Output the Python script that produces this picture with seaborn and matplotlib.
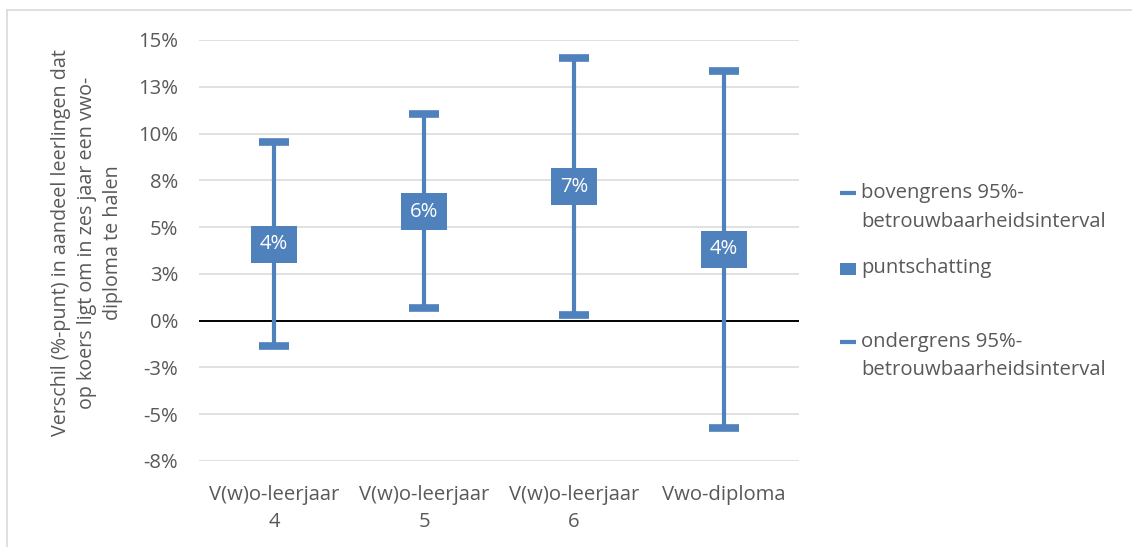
import matplotlib
matplotlib.use("Agg")
import matplotlib.pyplot as plt
from matplotlib.lines import Line2D
from matplotlib.patches import Rectangle
import seaborn as sns
import pandas as pd

# data (percentage points)
categories = ["V(w)o-leerjaar\n4", "V(w)o-leerjaar\n5", "V(w)o-leerjaar\n6", "Vwo-diploma"]
upper = [9.56, 11.03, 14.04, 13.33]
point = [4.09, 5.83, 7.17, 3.82]
lower = [-1.36, 0.66, 0.32, -5.72]
point_labels = ["4%", "6%", "7%", "4%"]

yticks = [15, 12.5, 10, 7.5, 5, 2.5, 0, -2.5, -5, -7.5]
ytick_labels = ["15%", "13%", "10%", "8%", "5%", "3%", "0%", "-3%", "-5%", "-8%"]

legend_labels = ["bovengrens 95%-\nbetrouwbaarheidsinterval",
                 "puntschatting",
                 "ondergrens 95%-\nbetrouwbaarheidsinterval"]

ylabel = "Verschil (%-punt) in aandeel leerlingen dat\nop koers ligt om in zes jaar een vwo-\ndiploma te halen"

blue = "#4F81BD"
grey = "#595959"
fs = 14.6

sns.set_style("white")
plt.rcParams["font.family"] = ["Open Sans", "DejaVu Sans"]

W, H = 1132, 547
fig = plt.figure(figsize=(W / 100, H / 100), dpi=100)
ax = fig.add_axes([199 / W, 1 - 461 / H, 600 / W, 421 / H])

# long table: median of (lower, point, upper) is the point, min/max the interval
long = pd.DataFrame({"cat": categories * 3, "val": upper + point + lower})

ax.set_yticks(yticks)
ax.yaxis.grid(True, color="#D9D9D9", linewidth=1.1, zorder=0)
ax.set_axisbelow(True)
ax.axhline(0, color="black", linewidth=1.4, zorder=1)

sns.pointplot(data=long, x="cat", y="val", estimator="median", errorbar=("pi", 100),
              color=blue, linestyle="none", markersize=0, capsize=0,
              err_kws={"linewidth": 3}, ax=ax, zorder=2)

# caps of the interval
for vals in (upper, lower):
    sns.pointplot(x=categories, y=vals, errorbar=None, color=blue, linestyle="none",
                  marker="_", markersize=21, markeredgewidth=5.5, ax=ax)

for i, (v, t) in enumerate(zip(point, point_labels)):
    ax.text(i, v, t, ha="center", va="center", color="white", fontsize=fs, zorder=5,
            bbox=dict(boxstyle="square,pad=0.42", facecolor=blue, edgecolor="none"))

ax.set_ylim(-7.5, 15)
ax.set_xlim(-0.5, 3.5)
ax.set_yticklabels(ytick_labels)
ax.set_xlabel("")
ax.set_ylabel("")
ax.tick_params(axis="y", length=0, pad=15, labelsize=fs, labelcolor=grey)
ax.tick_params(axis="x", length=0, pad=17, labelsize=fs, labelcolor=grey)
for lab in ax.get_xticklabels():
    lab.set_linespacing(1.5)
for s in ax.spines.values():
    s.set_visible(False)

fig.text(87 / W, 1 - 243 / H, ylabel, rotation=90, ha="center", va="center",
         multialignment="center", color=grey, fontsize=14.2, linespacing=1.4)

# legend drawn by hand to keep the uneven spacing of the original
marker_y = [193, 268.5, 341.7]
line_h = 28.7
for k, (lab, my) in enumerate(zip(legend_labels, marker_y)):
    if k == 1:
        fig.add_artist(Rectangle((840 / W, 1 - (my + 6) / H), 16 / W, 12 / H,
                                 transform=fig.transFigure, facecolor=blue, edgecolor="none"))
    else:
        fig.add_artist(Line2D([840 / W, 856 / W], [1 - my / H] * 2, transform=fig.transFigure,
                              color=blue, linewidth=3, solid_capstyle="butt"))
    for j, part in enumerate(lab.split("\n")):
        fig.text(861 / W, 1 - (my + j * line_h) / H, part, ha="left", va="center",
                 color=grey, fontsize=fs)

# chart frame (top and left edges visible in the crop)
fig.add_artist(Line2D([7 / W, 1], [1 - 10 / H] * 2, transform=fig.transFigure,
                      color="#D9D9D9", linewidth=1.2))
fig.add_artist(Line2D([7 / W, 7 / W], [0, 1 - 10 / H], transform=fig.transFigure,
                      color="#D9D9D9", linewidth=1.2))

fig.savefig("out.png", dpi=100)
